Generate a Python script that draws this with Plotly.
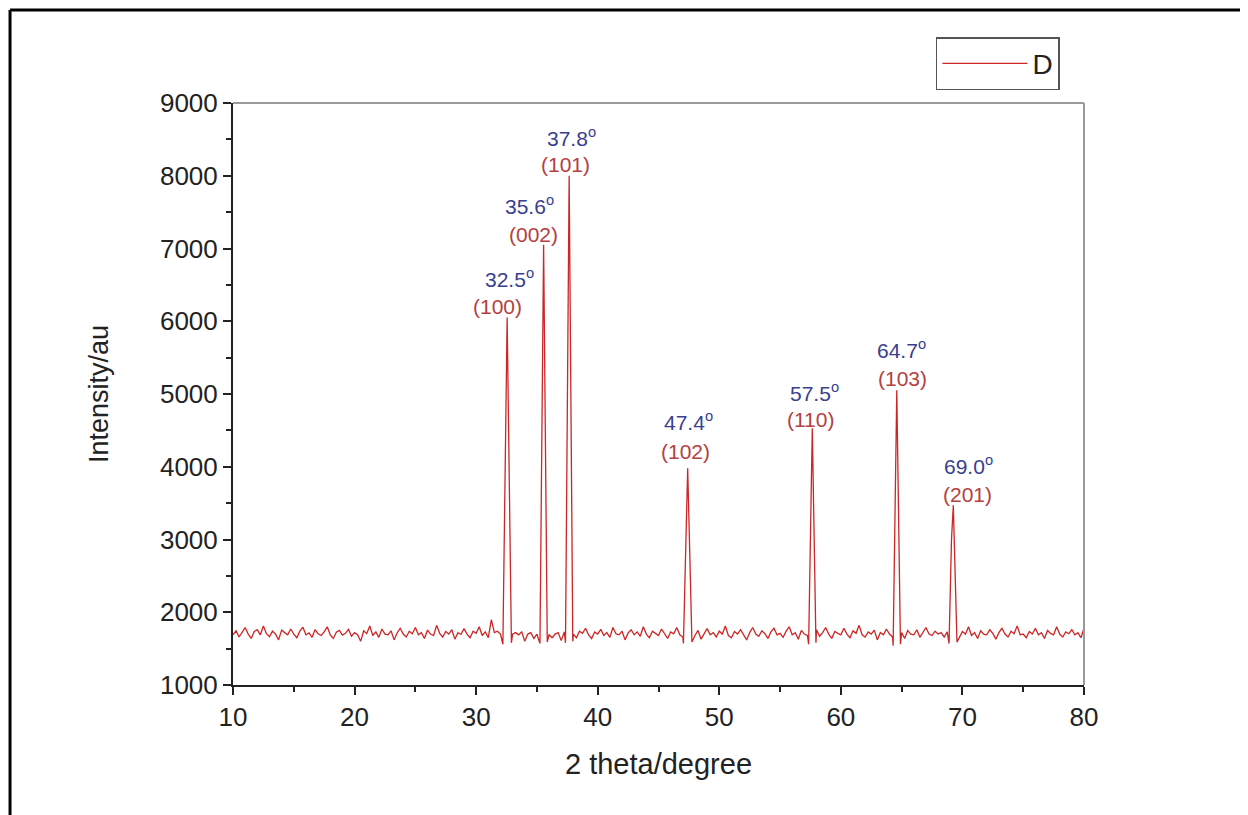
import plotly.graph_objects as go

# ---------------- data ----------------
x_start = 10.0
x_step = 0.25
# baseline intensities read on a 0.25 degree grid (10 .. 80)
base_y = [
    1690, 1745, 1660, 1720, 1790, 1700, 1640, 1735, 1760, 1690, 1810, 1705, 1665, 1740, 1700, 1620, 1755, 1720, 1690, 1770,
    1700, 1650, 1740, 1795, 1690, 1715, 1655, 1760, 1705, 1680, 1730, 1800, 1690, 1640, 1725, 1750, 1685, 1710, 1765, 1670,
    1720, 1690, 1600, 1745, 1705, 1810, 1680, 1730, 1655, 1770, 1700, 1690, 1745, 1620, 1715, 1780, 1700, 1660, 1740, 1705,
    1790, 1690, 1720, 1640, 1755, 1700, 1680, 1820, 1710, 1660, 1735, 1700, 1760, 1630, 1720, 1695, 1775, 1700, 1650, 1740,
    1710, 1800, 1680, 1730, 1650, 1900, 1720, 1740, 1700, 1560, 1640, 1780, 1700, 1720, 1690, 1730, 1600, 1700, 1720, 1640,
    1700, 1620, 1700, 1740, 1690, 1650, 1700, 1720, 1610, 1730, 1690, 1760, 1700, 1650, 1740, 1710, 1780, 1690, 1640, 1730,
    1700, 1765, 1680, 1720, 1655, 1790, 1705, 1690, 1740, 1620, 1715, 1760, 1690, 1730, 1670, 1800, 1700, 1650, 1740, 1710,
    1680, 1770, 1700, 1640, 1730, 1705, 1790, 1690, 1660, 1740, 1700, 1720, 1680, 1750, 1630, 1710, 1775, 1690, 1720, 1660,
    1740, 1700, 1810, 1680, 1650, 1735, 1700, 1760, 1690, 1620, 1720, 1790, 1700, 1670, 1745, 1705, 1640, 1730, 1780, 1690,
    1710, 1655, 1740, 1800, 1690, 1720, 1630, 1750, 1700, 1680, 1740, 1700, 1760, 1670, 1720, 1790, 1700, 1640, 1735, 1710,
    1690, 1780, 1700, 1650, 1745, 1710, 1820, 1690, 1660, 1730, 1700, 1755, 1620, 1720, 1690, 1770, 1700, 1660, 1740, 1700,
    1720, 1640, 1750, 1700, 1690, 1760, 1655, 1720, 1790, 1700, 1680, 1740, 1700, 1720, 1660, 1730, 1710, 1770, 1690, 1650,
    1735, 1700, 1800, 1680, 1720, 1640, 1745, 1700, 1690, 1760, 1710, 1630, 1720, 1780, 1700, 1660, 1740, 1705, 1810, 1690,
    1700, 1650, 1735, 1700, 1780, 1690, 1720, 1640, 1750, 1710, 1690, 1800, 1700, 1660, 1730, 1705, 1760, 1690, 1720, 1650,
    1780,
]

# peak points (angle, intensity)
peak_x = [
    32.2, 32.55, 32.9,
    35.25, 35.55, 35.85,
    37.35, 37.65, 37.95,
    47.05, 47.4, 47.75,
    57.35, 57.65, 57.95,
    64.3, 64.6, 64.9,
    68.9, 69.1, 69.25, 69.55,
]
peak_y = [
    1560, 6050, 1580,
    1570, 7050, 1590,
    1580, 8000, 1600,
    1570, 3980, 1590,
    1560, 4530, 1580,
    1540, 5050, 1560,
    1570, 3000, 3470, 1590,
]
peak_windows = [(32.2, 32.9), (35.25, 35.85), (37.35, 37.95), (47.05, 47.75),
                (57.35, 57.95), (64.3, 64.9), (68.9, 69.55)]

# peak labels
angle_labels = ["32.5", "35.6", "37.8", "47.4", "57.5", "64.7", "69.0"]
hkl_labels = ["(100)", "(002)", "(101)", "(102)", "(110)", "(103)", "(201)"]

x_ticks = [10, 20, 30, 40, 50, 60, 70, 80]
y_ticks = [1000, 2000, 3000, 4000, 5000, 6000, 7000, 8000, 9000]

# ---------------- build pattern ----------------
pts = []
for i, v in enumerate(base_y):
    xv = x_start + i * x_step
    if any(a <= xv <= b for a, b in peak_windows):
        continue
    pts.append((xv, v))
pts += list(zip(peak_x, peak_y))
pts.sort()
xs = [p[0] for p in pts]
ys = [p[1] for p in pts]

fig = go.Figure()
fig.add_trace(go.Scatter(x=xs, y=ys, mode="lines", name="D",
                         line=dict(color="#cc2626", width=1.3)))

# label positions (angle-label left edge, hkl-label center)
angle_pos = [(30.56, 6594), (32.21, 7598), (35.66, 8533), (45.29, 4629),
             (55.65, 5027), (62.81, 5619), (68.32, 4024)]
hkl_pos = [(31.72, 6196), (34.68, 7186), (37.31, 8148), (47.18, 4203),
           (57.54, 4643), (65.03, 5220), (70.38, 3625)]

blue = "#38408f"
red = "#b54040"
for t, (ax_, ay_) in zip(angle_labels, angle_pos):
    fig.add_annotation(x=ax_, y=ay_, xref="x", yref="y", text=t + "<sup>o</sup>",
                       showarrow=False, xanchor="left", yanchor="middle",
                       font=dict(family="Liberation Sans, Arial", size=21, color=blue))
for t, (hx, hy) in zip(hkl_labels, hkl_pos):
    fig.add_annotation(x=hx, y=hy, xref="x", yref="y", text=t,
                       showarrow=False, xanchor="center", yanchor="middle",
                       font=dict(family="Liberation Sans, Arial", size=21, color=red))

# outer frame and plot frame
frame = dict(color="black", width=3)
fig.add_shape(type="line", xref="paper", yref="paper", x0=-0.262, x1=1.2, y0=1.1598, y1=1.1598, line=frame)
fig.add_shape(type="line", xref="paper", yref="paper", x0=-0.262, x1=-0.262, y0=1.1598, y1=-0.25, line=frame)
fig.add_shape(type="line", xref="paper", yref="paper", x0=-0.0646, x1=-0.0646, y0=1.18, y1=1.166,
              line=dict(color="black", width=2))
gray = dict(color="#9a9a9a", width=2)
fig.add_shape(type="line", xref="paper", yref="paper", x0=0, x1=1, y0=1, y1=1, line=gray)
fig.add_shape(type="line", xref="paper", yref="paper", x0=1, x1=1, y0=0, y1=1, line=gray)

tickfont = dict(family="Liberation Sans, Arial", size=26, color="#222222")
fig.update_xaxes(range=[10, 80], tickvals=x_ticks, ticks="outside", ticklen=8, tickwidth=2,
                 tickcolor="#222", showline=True, linecolor="#222", linewidth=2,
                 showgrid=False, zeroline=False, tickfont=tickfont,
                 minor=dict(dtick=5, tick0=5, ticks="outside", ticklen=5, tickwidth=2, tickcolor="#222"),
                 title=dict(text="2 theta/degree", standoff=22,
                            font=dict(family="Liberation Sans, Arial", size=29, color="#222")))
fig.update_yaxes(range=[1000, 9000], tickvals=y_ticks, ticks="outside", ticklen=8, tickwidth=2,
                 tickcolor="#222", showline=True, linecolor="#222", linewidth=2,
                 showgrid=False, zeroline=False, tickfont=tickfont,
                 minor=dict(dtick=500, tick0=500, ticks="outside", ticklen=5, tickwidth=2, tickcolor="#222"),
                 title=dict(text="Intensity/au", standoff=44,
                            font=dict(family="Liberation Sans Narrow, Liberation Sans, Arial", size=27, color="#222")))

fig.update_layout(
    width=1240, height=807,
    margin=dict(l=225, r=164, t=95, b=130),
    paper_bgcolor="white", plot_bgcolor="white",
    showlegend=True,
    legend=dict(x=0.826, y=1.113, xanchor="left", yanchor="top",
                bordercolor="#555", borderwidth=1.5, bgcolor="white",
                itemwidth=85,
                font=dict(family="Liberation Sans, Arial", size=28, color="#222")),
)

fig.write_html("out.html")
